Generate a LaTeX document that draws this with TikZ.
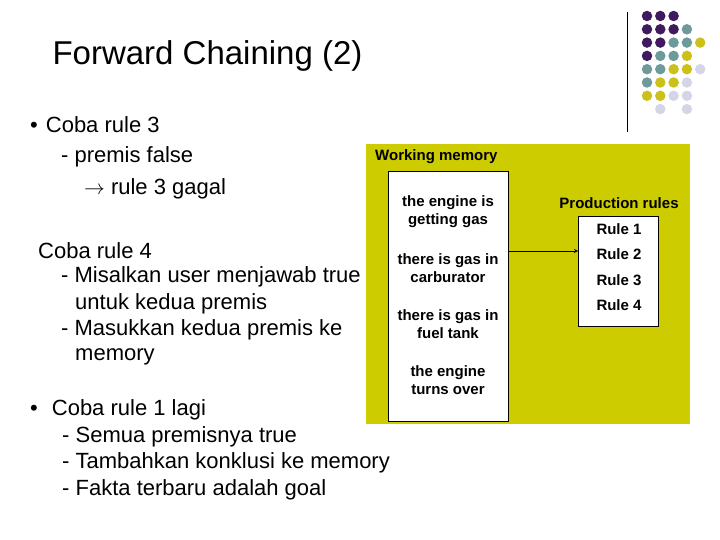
\documentclass[tikz,border=0pt]{standalone}
\usepackage{fontspec}
\setmainfont{Liberation Sans}
\usetikzlibrary{positioning}
\definecolor{olive}{HTML}{CCCC00}
\definecolor{dpurple}{HTML}{3F1A5E}
\definecolor{teal}{HTML}{6F9A9A}
\definecolor{dyellow}{HTML}{CCC11A}
\definecolor{lav}{HTML}{D5D5E8}
\begin{document}
\begin{tikzpicture}[x=1pt,y=-1pt,
body/.style={anchor=west, font=\fontsize{22}{26}\selectfont, inner sep=0pt},
lbl/.style={font=\fontsize{15}{18}\selectfont\bfseries, align=center, inner sep=0pt},
dot/.style={circle, inner sep=0pt, minimum size=10.5pt}]
\useasboundingbox (0,0) rectangle (720,540);
% title and bullets
\node[anchor=west, font=\fontsize{33}{38}\selectfont] (title) at (49,56) {Forward Chaining (2)};
\node[body] (b1) at (30,125) {•\hspace{8pt}Coba rule 3};
\node[body] (b1a) at (61,157) {- premis false};
\node[body] (b1b) at (84,189) {$\rightarrow$ rule 3 gagal};
\node[body] (b2) at (38,251) {Coba rule 4};
\node[body] (b2a) at (61,277) {- Misalkan user menjawab true};
\node[body] (b2b) at (75,304) {untuk kedua premis};
\node[body] (b2c) at (61,330) {- Masukkan kedua premis ke};
\node[body] (b2d) at (75,357) {memory};
\node[body] (b3) at (30,410) {•\hspace{14pt}Coba rule 1 lagi};
\node[body] (b3a) at (62,437) {- Semua premisnya true};
\node[body] (b3b) at (62,463) {- Tambahkan konklusi ke memory};
\node[body] (b3c) at (62,490) {- Fakta terbaru adalah goal};
% diagram
\fill[olive] (366,144) rectangle (690,424);
\draw[fill=white] (388,171) rectangle (508,421);
\draw[fill=white] (578,216) rectangle (658,326);
\node[lbl, anchor=west] (wm) at (375,157) {Working memory};
\node[lbl] (pr) at (619,203) {Production rules};
\node[lbl] (f1) at (448,212) {the engine is\\getting gas};
\node[lbl] (f2) at (448,268) {there is gas in\\carburator};
\node[lbl] (f3) at (448,324) {there is gas in\\fuel tank};
\node[lbl] (f4) at (448,380) {the engine\\turns over};
\node[lbl] (r1) at (619,229) {Rule 1};
\node[lbl] (r2) at (619,254) {Rule 2};
\node[lbl] (r3) at (619,280) {Rule 3};
\node[lbl] (r4) at (619,305) {Rule 4};
\coordinate (wmout) at (508,251);
\coordinate (prin) at (578,251);
\draw[-stealth, line width=0.8pt] (wmout) -- (prin);
% corner dots
\draw (627,12) -- (627,132);
\foreach \r/\row in {0/{P,P,P,N,N},1/{P,P,P,G,N},2/{P,P,G,G,Y},3/{P,G,G,Y,N},
  4/{G,G,Y,Y,L},5/{G,Y,Y,L,N},6/{Y,Y,L,L,N},7/{N,L,N,L,N}}{
  \foreach \c [count=\i from 0] in \row {
    \if\c P\node[dot, fill=dpurple] at (647+13.3*\i,16+13.3*\r) {};\fi
    \if\c G\node[dot, fill=teal] at (647+13.3*\i,16+13.3*\r) {};\fi
    \if\c Y\node[dot, fill=dyellow] at (647+13.3*\i,16+13.3*\r) {};\fi
    \if\c L\node[dot, fill=lav] at (647+13.3*\i,16+13.3*\r) {};\fi
  }}
\end{tikzpicture}
\end{document}
